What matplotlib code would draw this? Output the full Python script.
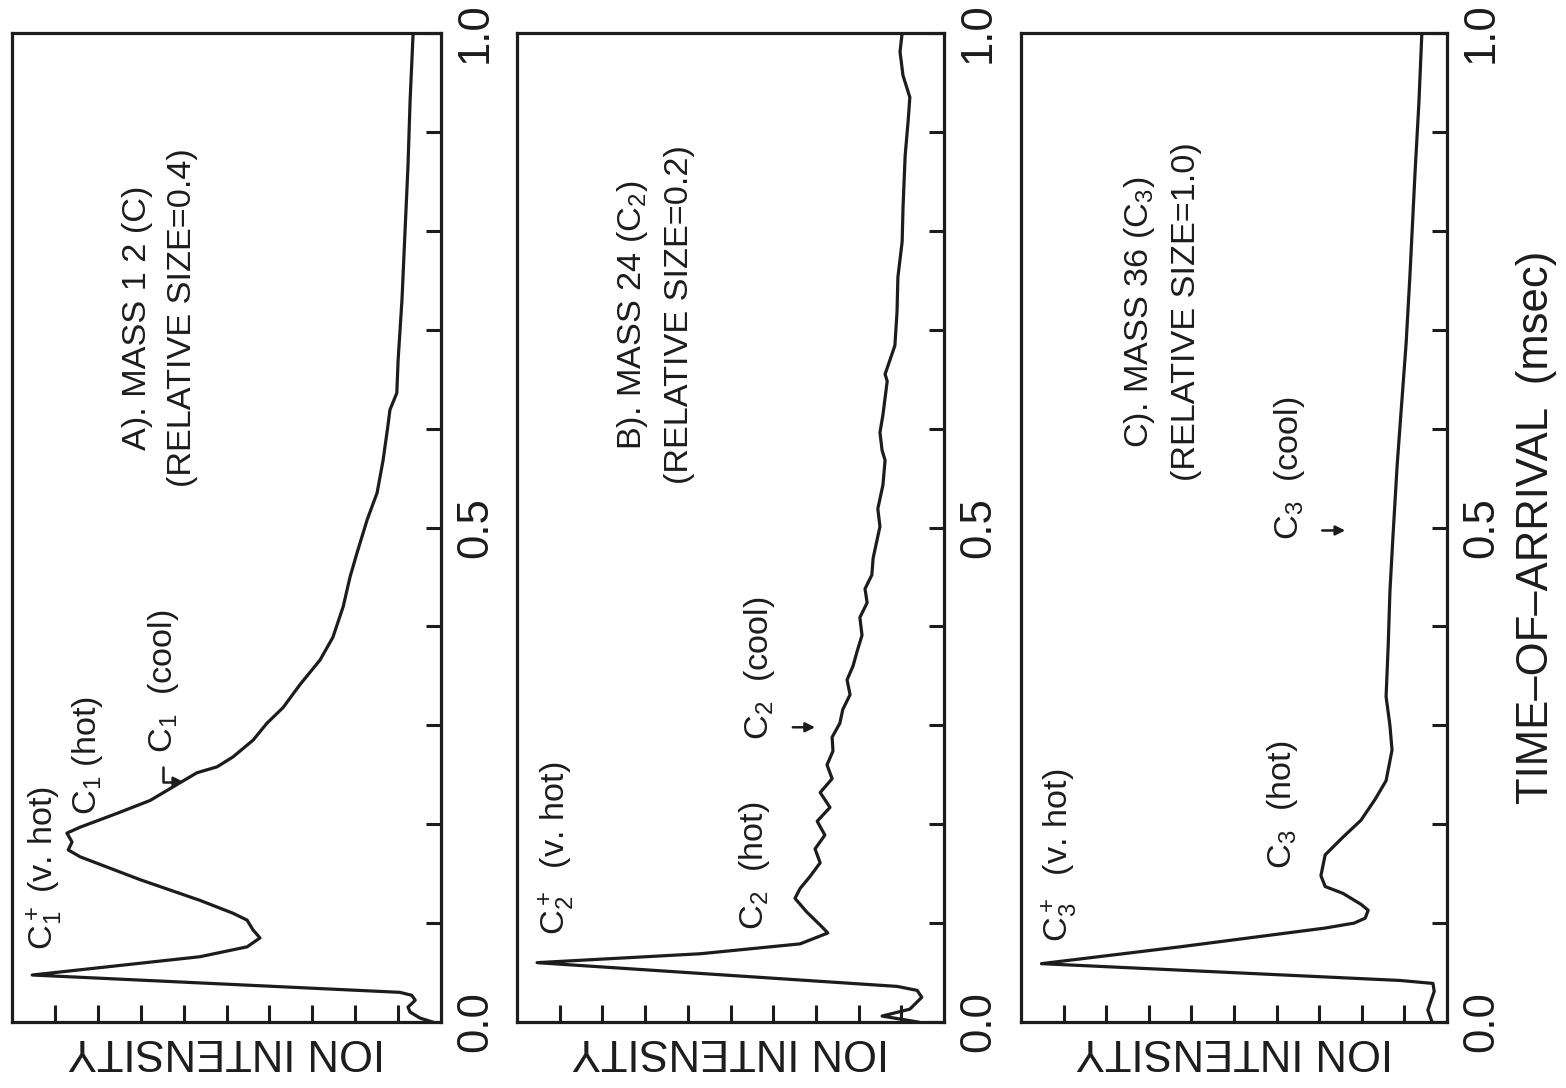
import numpy as np
import matplotlib
matplotlib.use('Agg')
import matplotlib.pyplot as plt
from matplotlib import font_manager

# pick a condensed face if we have one
names = set(f.name for f in font_manager.fontManager.ttflist)
if 'Liberation Sans Narrow' in names:
    FONT = 'Liberation Sans Narrow'
    k = 1.0
else:
    FONT = 'Liberation Sans'
    k = 0.85

plt.rcParams['font.family'] = [FONT, 'DejaVu Sans']
plt.rcParams['mathtext.fontset'] = 'custom'
plt.rcParams['mathtext.rm'] = FONT
plt.rcParams['mathtext.it'] = FONT
plt.rcParams['mathtext.bf'] = FONT
plt.rcParams['mathtext.default'] = 'regular'

ink = '#1c1c1c'

# ---- data (time-of-arrival in msec, ion intensity in relative units) ----
time_a = [0.0, 0.004, 0.010, 0.015, 0.022, 0.027, 0.030, 0.0475, 0.066, 0.076, 0.085,
          0.093, 0.103, 0.110, 0.123, 0.144, 0.167, 0.174, 0.182, 0.191, 0.197, 0.211,
          0.224, 0.242, 0.252, 0.258, 0.268, 0.285, 0.302, 0.318, 0.341, 0.366, 0.389,
          0.420, 0.450, 0.474, 0.508, 0.535, 0.568, 0.602, 0.619, 0.636, 0.669, 0.730,
          0.798, 0.865, 0.932, 1.0]
inten_a = [0.02, 0.049, 0.072, 0.077, 0.060, 0.068, 0.096, 0.953, 0.562, 0.452, 0.422,
           0.438, 0.452, 0.485, 0.562, 0.702, 0.841, 0.869, 0.860, 0.872, 0.841, 0.755,
           0.678, 0.608, 0.569, 0.522, 0.485, 0.438, 0.406, 0.368, 0.329, 0.282, 0.252,
           0.228, 0.212, 0.196, 0.172, 0.149, 0.135, 0.124, 0.119, 0.103, 0.100, 0.091,
           0.084, 0.077, 0.072, 0.065]

time_b = [0.0, 0.006, 0.013, 0.025, 0.032, 0.036, 0.060, 0.069, 0.079, 0.090, 0.098,
          0.111, 0.125, 0.135, 0.147, 0.161, 0.175, 0.189, 0.203, 0.217, 0.232, 0.246,
          0.260, 0.274, 0.288, 0.302, 0.316, 0.331, 0.346, 0.360, 0.374, 0.391, 0.409,
          0.424, 0.438, 0.452, 0.469, 0.487, 0.501, 0.519, 0.543, 0.568, 0.578, 0.596,
          0.614, 0.648, 0.655, 0.684, 0.718, 0.753, 0.789, 0.823, 0.876, 0.911, 0.935,
          0.957, 0.981, 1.0]
inten_b = [0.061, 0.145, 0.080, 0.052, 0.063, 0.110, 0.953, 0.571, 0.337, 0.272, 0.290,
           0.321, 0.349, 0.337, 0.314, 0.290, 0.302, 0.279, 0.297, 0.267, 0.290, 0.262,
           0.274, 0.260, 0.262, 0.244, 0.237, 0.220, 0.227, 0.213, 0.204, 0.192, 0.197,
           0.180, 0.185, 0.169, 0.166, 0.157, 0.150, 0.155, 0.143, 0.138, 0.145, 0.150,
           0.143, 0.133, 0.138, 0.115, 0.110, 0.108, 0.098, 0.096, 0.091, 0.084, 0.080,
           0.096, 0.103, 0.098]

time_c = [0.0, 0.012, 0.021, 0.031, 0.039, 0.042, 0.059, 0.076, 0.095, 0.100, 0.105,
          0.113, 0.119, 0.130, 0.137, 0.148, 0.169, 0.187, 0.204, 0.225, 0.244, 0.275,
          0.300, 0.329, 0.381, 0.435, 0.490, 0.563, 0.616, 0.686, 0.755, 0.859, 0.929, 1.0]
inten_c = [0.035, 0.045, 0.038, 0.030, 0.033, 0.110, 0.952, 0.627, 0.286, 0.218, 0.192,
           0.185, 0.202, 0.244, 0.286, 0.296, 0.286, 0.244, 0.202, 0.169, 0.143, 0.129,
           0.134, 0.143, 0.138, 0.134, 0.127, 0.117, 0.108, 0.096, 0.087, 0.075, 0.066, 0.059]

titles = ['A). MASS 1 2 (C)\n(RELATIVE SIZE=0.4)',
          'B). MASS 24 ($\\mathrm{C}_2$)\n(RELATIVE SIZE=0.2)',
          'C). MASS 36 ($\\mathrm{C}_3$)\n(RELATIVE SIZE=1.0)']
title_pos = [(0.655, 0.712), (0.677, 0.715), (0.669, 0.718)]

# peak labels: (text, intensity, time where the text starts)
peak_labels = [
    [('$\\mathrm{C}_1^+$ (v. hot)', 0.923, 0.073),
     ('$\\mathrm{C}_1$ (hot)', 0.825, 0.209),
     ('$\\mathrm{C}_1$  (cool)', 0.648, 0.272)],
    [('$\\mathrm{C}_2^+$  (v. hot)', 0.906, 0.088),
     ('$\\mathrm{C}_2$  (hot)', 0.443, 0.093),
     ('$\\mathrm{C}_2$  (cool)', 0.431, 0.285)],
    [('$\\mathrm{C}_3^+$  (v. hot)', 0.908, 0.081),
     ('$\\mathrm{C}_3$  (hot)', 0.385, 0.155),
     ('$\\mathrm{C}_3$  (cool)', 0.369, 0.487)],
]

series = [(time_a, inten_a), (time_b, inten_b), (time_c, inten_c)]

fig = plt.figure(figsize=(15.66, 10.88), dpi=100)
fig.set_facecolor('white')

lefts = [12/1566, 517/1566, 1021/1566]
widths = [429/1566, 427/1566, 426/1566]
axes = []
for i in range(3):
    ax = fig.add_axes([lefts[i], 66/1088, widths[i], 989/1088])
    t, y = series[i]
    ax.plot(y, t, color=ink, lw=2.3, solid_joinstyle='round')
    ax.set_xlim(1.0, 0.0)
    ax.set_ylim(0.0, 1.0)
    for s in ax.spines.values():
        s.set_linewidth(2.3)
        s.set_color(ink)

    ax.set_xticks(np.arange(0.1, 0.95, 0.1))
    ax.tick_params(axis='x', direction='in', length=12, width=2.2, color=ink,
                   bottom=True, top=False, labelbottom=False)
    ax.set_xlabel('ION INTENSITY', rotation=180, fontsize=37*k, labelpad=6, color=ink)

    ax.yaxis.tick_right()
    ax.set_yticks([0.0, 0.5, 1.0])
    ax.set_yticklabels(['0.0', '0.5', '1.0'])
    ax.set_yticks(np.arange(0.1, 0.95, 0.1), minor=True)
    ax.tick_params(axis='y', which='both', direction='in', length=11, width=2.2,
                   color=ink, left=False, right=True, labelsize=37*k, pad=10,
                   labelcolor=ink)
    for lab in ax.get_yticklabels():
        lab.set_rotation(90)
        lab.set_va('center')
        lab.set_ha('left')

    tx, ty = title_pos[i]
    ax.text(tx, ty, titles[i], rotation=90, ha='center', va='center',
            multialignment='center', linespacing=1.55, fontsize=29*k, color=ink)
    for txt, px, py in peak_labels[i]:
        ax.text(px, py, txt, rotation=90, ha='center', va='bottom',
                fontsize=29*k, color=ink)
    axes.append(ax)

# little arrows pointing at the "cool" parts
axes[0].annotate('', xy=(0.601, 0.243), xytext=(0.648, 0.258),
                 arrowprops=dict(arrowstyle='-|>', color=ink, lw=1.8, mutation_scale=14,
                                 shrinkA=0, shrinkB=0,
                                 connectionstyle='angle,angleA=90,angleB=0,rad=0'))
axes[1].annotate('', xy=(0.302, 0.298), xytext=(0.354, 0.298),
                 arrowprops=dict(arrowstyle='-|>', color=ink, lw=1.8, mutation_scale=14,
                                 shrinkA=0, shrinkB=0))
axes[2].annotate('', xy=(0.239, 0.497), xytext=(0.293, 0.497),
                 arrowprops=dict(arrowstyle='-|>', color=ink, lw=1.8, mutation_scale=14,
                                 shrinkA=0, shrinkB=0))

axes[2].yaxis.set_label_position('right')
axes[2].set_ylabel('TIME\u2013OF\u2013ARRIVAL  (msec)', rotation=90, fontsize=37*k,
                   labelpad=10, color=ink)

fig.savefig('out.png', dpi=100, facecolor='white')
